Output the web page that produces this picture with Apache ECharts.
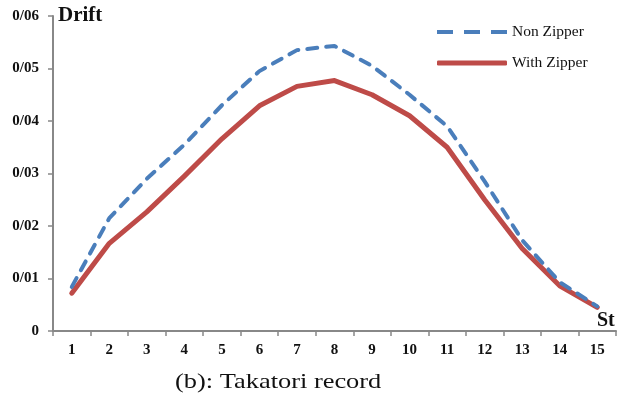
<!DOCTYPE html>
<html>
<head>
<meta charset="utf-8">
<script src="https://cdn.jsdelivr.net/npm/echarts@6/dist/echarts.min.js"></script>
<style>html,body{margin:0;padding:0;background:#fff}#c{width:618px;height:403px}</style>
</head>
<body>
<div id="c"></div>
<script>
const categories = ['1','2','3','4','5','6','7','8','9','10','11','12','13','14','15'];
const nonZipper = [0.0084, 0.0215, 0.0290, 0.0355, 0.0430, 0.0495, 0.0535, 0.0543, 0.0505, 0.0450, 0.0390, 0.0285, 0.0173, 0.0093, 0.0047];
const withZipper = [0.0072, 0.0167, 0.0227, 0.0295, 0.0366, 0.0429, 0.0466, 0.0477, 0.0450, 0.0410, 0.0350, 0.0250, 0.0157, 0.0086, 0.0045];
const yTickLabels = ['0','0/01','0/02','0/03','0/04','0/05','0/06'];
const seriesNames = ['Non Zipper','With Zipper'];

const serif = '"Liberation Serif", "Times New Roman", serif';
const chart = echarts.init(document.getElementById('c'), null, {renderer:'canvas'});
chart.setOption({
  animation: false,
  backgroundColor: '#fff',
  grid: {left: 53, right: 2, top: 16, bottom: 72, containLabel: false},
  legend: {
    orient: 'vertical', left: 432, top: 19, itemWidth: 70, itemHeight: 5, itemGap: 15,
    textStyle: {fontFamily: serif, fontSize: 15.5, color: '#111'},
    data: [
      {name: seriesNames[0], icon: 'path://M0,0h16v4h-16z M27,0h16v4h-16z M54,0h16v4h-16z'},
      {name: seriesNames[1], icon: 'roundRect'}
    ]
  },
  xAxis: {
    type: 'category', data: categories, boundaryGap: true,
    axisLine: {lineStyle: {color: '#888', width: 2}},
    axisTick: {show: true, alignWithLabel: false, length: 5, lineStyle: {color: '#888', width: 1.5}},
    axisLabel: {fontFamily: serif, fontWeight: 'bold', fontSize: 15, color: '#111', margin: 12},
    splitLine: {show: false}
  },
  yAxis: {
    type: 'value', min: 0, max: 0.06, interval: 0.01,
    axisLine: {show: true, lineStyle: {color: '#888', width: 2}},
    axisTick: {show: true, length: 5, lineStyle: {color: '#888', width: 1.5}},
    axisLabel: {fontFamily: serif, fontWeight: 'bold', fontSize: 15, color: '#111', margin: 14,
      formatter: v => yTickLabels[Math.round(v / 0.01)]},
    splitLine: {show: false}
  },
  series: [
    {name: seriesNames[0], type: 'line', data: nonZipper, symbol: 'none', z: 3,
      itemStyle: {color: '#4a7ebb'},
      lineStyle: {color: '#4a7ebb', width: 4, type: [10, 9], cap: 'round'}},
    {name: seriesNames[1], type: 'line', data: withZipper, symbol: 'none', z: 2,
      itemStyle: {color: '#be4b48'},
      lineStyle: {color: '#be4b48', width: 5, cap: 'round', join: 'round'}}
  ],
  graphic: [
    {type: 'text', left: 58, top: 5, style: {text: 'Drift', font: 'bold 21px ' + serif, fill: '#111'}},
    {type: 'text', left: 597, top: 311, style: {text: 'St', font: 'bold 20px ' + serif, fill: '#111'}},
    {type: 'text', x: 175, y: 371, scaleX: 1.2, style: {text: '(b): Takatori record', font: '22px ' + serif, fill: '#111'}}
  ]
});
</script>
</body>
</html>
